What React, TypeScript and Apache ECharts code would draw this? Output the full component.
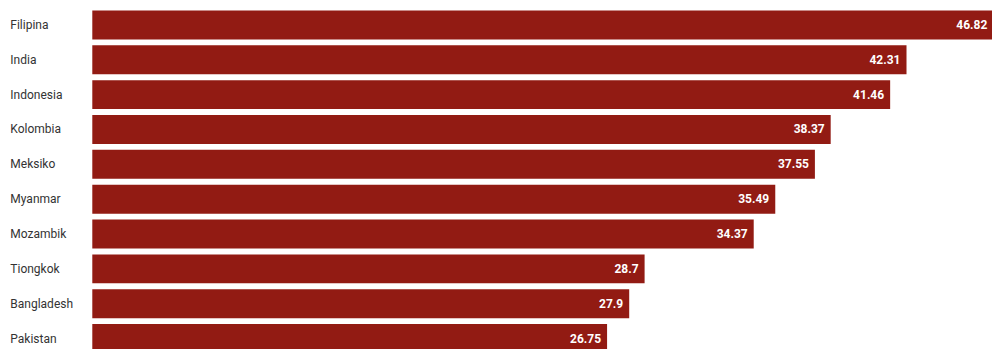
import React, { useEffect, useRef } from "react";
import * as echarts from "echarts";

const categories = ["Filipina", "India", "Indonesia", "Kolombia", "Meksiko", "Myanmar", "Mozambik", "Tiongkok", "Bangladesh", "Pakistan"];
const values = [46.82, 42.31, 41.46, 38.37, 37.55, 35.49, 34.37, 28.7, 27.9, 26.75];

export default function App() {
  const ref = useRef<HTMLDivElement>(null);
  useEffect(() => {
    document.body.style.margin = "0";
    document.body.style.overflow = "hidden";
    const chart = echarts.init(ref.current!, undefined, { renderer: "svg" });
    chart.setOption({
      animation: false,
      grid: { left: 92.3, width: 901, top: 7.5, bottom: 0, containLabel: false },
      xAxis: { type: "value", min: 0, max: 46.82, show: false },
      yAxis: {
        type: "category",
        data: categories,
        inverse: true,
        axisLine: { show: false },
        axisTick: { show: false },
        axisLabel: { align: "left", margin: 82, color: "#333", fontSize: 12, fontFamily: "Roboto" },
      },
      series: [
        {
          type: "bar",
          data: values,
          barCategoryGap: "17%",
          itemStyle: { color: "#921b13" },
          label: {
            show: true,
            position: "insideRight",
            distance: 6,
            color: "#fff",
            fontWeight: "bold",
            fontSize: 12,
            fontFamily: "Roboto",
          },
        },
      ],
    });
    return () => chart.dispose();
  }, []);
  return <div ref={ref} style={{ position: "absolute", left: 0, top: 0, width: 1000, height: 356 }} />;
}
